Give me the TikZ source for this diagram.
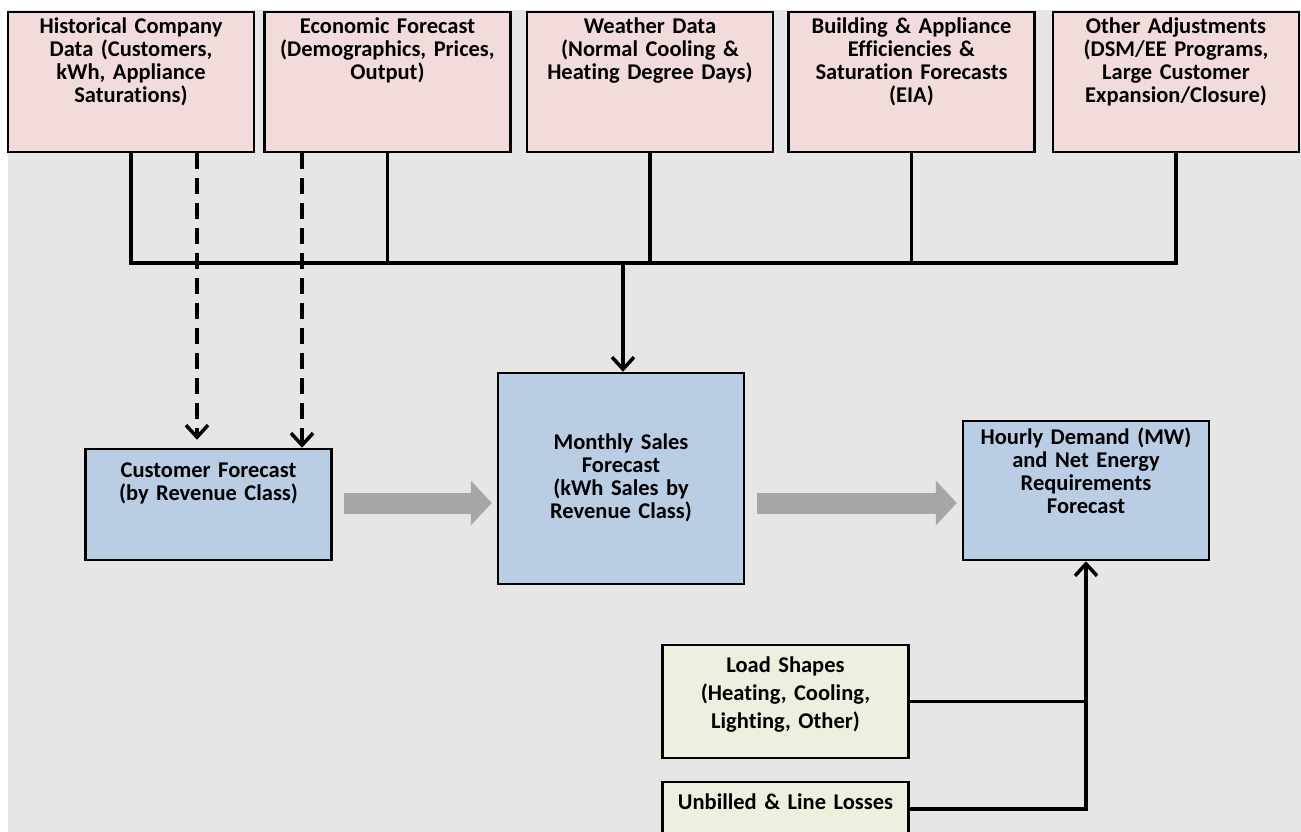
\documentclass[tikz,border=0pt]{standalone}
\usepackage{fontspec}
\setmainfont{Carlito}[Ligatures=NoCommon]
\usetikzlibrary{positioning,arrows.meta}

\definecolor{bgGray}{HTML}{E6E6E6}
\definecolor{inPink}{HTML}{F2DCDB}
\definecolor{fcBlue}{HTML}{B9CDE5}
\definecolor{ldGreen}{HTML}{EBF1DE}
\definecolor{blockGray}{HTML}{A6A6A6}

\begin{document}
\begin{tikzpicture}[
            x=1pt, y=-1pt,
            box/.style={draw=black, line width=2.5pt, minimum width=246pt},
            inbox/.style={box, fill=inPink, minimum height=140pt},
            fcbox/.style={box, fill=fcBlue},
            ldbox/.style={box, fill=ldGreen},
            txt/.style={inner sep=0pt, text width=240pt, align=center,
                font=\bfseries\fontsize{22.5}{23}\selectfont},
            conn/.style={line width=3.5pt},
            arr/.style={conn, -{Straight Barb[length=12pt,width=22pt]}},
            dasharr/.style={arr, dash pattern=on 16pt off 9pt},
            block/.style={draw=blockGray, line width=21pt,
                -{Triangle[length=21pt,width=45pt,line width=0pt]}}
        ]
        \path[use as bounding box] (0,0) rectangle (1301,832);
        \clip (0,0) rectangle (1301,832);
        \fill[bgGray] (8,10) rectangle (1301,832);

        % input boxes
        \node[inbox] (hist) at (131,82) {};
        \node[inbox] (econ) at (387.5,82) {};
        \node[inbox] (weather) at (650,82) {};
        \node[inbox] (eff) at (911.5,82) {};
        \node[inbox] (adj) at (1176,82) {};
        \node[txt, below=7pt of hist.north] {Historical Company\\Data (Customers,\\kWh, Appliance\\Saturations)};
        \node[txt, below=7pt of econ.north] {Economic Forecast\\(Demographics, Prices,\\Output)};
        \node[txt, below=7pt of weather.north] {Weather Data\\(Normal Cooling \&\\Heating Degree Days)};
        \node[txt, below=7pt of eff.north] {Building \& Appliance\\Efficiencies \&\\Saturation Forecasts\\(EIA)};
        \node[txt, below=7pt of adj.north] {Other Adjustments\\(DSM/EE Programs,\\Large Customer\\Expansion/Closure)};

        % forecast boxes
        \node[fcbox, minimum height=111pt] (cust) at (208.5,504.5) {};
        \node[fcbox, minimum height=211pt] (monthly) at (621,478.5) {};
        \node[fcbox, minimum height=139pt] (hourly) at (1086,490.5) {};
        \node[txt, below=15pt of cust.north] {Customer Forecast\\(by Revenue Class)};
        \node[txt] at ([yshift=1pt]monthly.center) {Monthly Sales\\Forecast\\(kWh Sales by\\Revenue Class)};
        \node[txt, below=8pt of hourly.north] {Hourly Demand (MW)\\and Net Energy\\Requirements\\Forecast};

        % load boxes
        \node[ldbox, minimum height=113pt] (load) at (785.5,701.5) {};
        \node[ldbox, minimum height=54pt] (unbilled) at (785.5,809) {};
        \node[txt, below=13pt of load.north, font=\bfseries\fontsize{22.5}{28}\selectfont] {Load Shapes\\(Heating, Cooling,\\Lighting, Other)};
        \node[txt, below=13pt of unbilled.north] {Unbilled \& Line Losses};

        % bus from the inputs
        \coordinate (bus) at (0,263);
        \draw[conn] (hist.south) -- (hist.south |- bus) -| (adj.south);
        \foreach \n in {econ, weather, eff}
            \draw[conn] (\n.south) -- (\n.south |- bus);
        \draw[arr] ([xshift=2pt]monthly.north |- bus) -- ([xshift=2pt]monthly.north);

        % dashed inputs to customer forecast
        \draw[dasharr, shorten >=8pt] ([xshift=66pt]hist.south) -- ([xshift=66pt]hist.south |- cust.north);
        \draw[dasharr] ([xshift=-85.5pt]econ.south) -- ([xshift=-85.5pt]econ.south |- cust.north);

        % block arrows
        \draw[block] ([xshift=11pt,yshift=1.5pt]cust.east) -- ([xshift=-5pt,yshift=1.5pt]cust.east -| monthly.west);
        \draw[block] ([xshift=12pt,yshift=1.5pt]cust.east -| monthly.east) -- ([xshift=-5pt,yshift=1.5pt]cust.east -| hourly.west);

        % load shapes and losses
        \draw[conn] (load.east) -- (load.east -| hourly.south);
        \draw[arr] (unbilled.east) -| (hourly.south);
        \end{tikzpicture}
\end{document}
